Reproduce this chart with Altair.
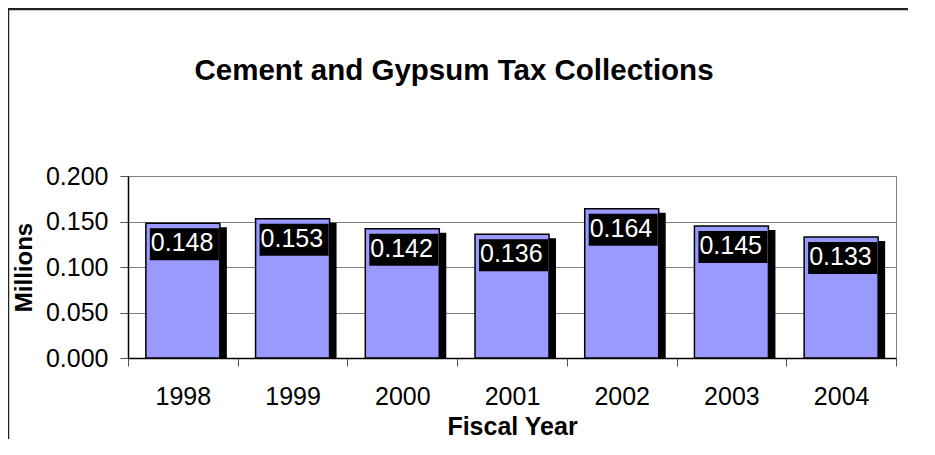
import altair as alt
import pandas as pd

years = ["1998", "1999", "2000", "2001", "2002", "2003", "2004"]
values = [0.148, 0.153, 0.142, 0.136, 0.164, 0.145, 0.133]
y_ticks = [0.0, 0.05, 0.10, 0.15, 0.20]
title_text = "Cement and Gypsum Tax Collections"
x_title = "Fiscal Year"
y_title = "Millions"

df = pd.DataFrame({"year": years, "value": values})
FONT = "Liberation Sans"

x_enc = alt.X(
    "year:N",
    sort=years,
    scale=alt.Scale(paddingInner=0, paddingOuter=0),
    axis=alt.Axis(
        title=x_title,
        labelAngle=0,
        tickBand="extent",
        labelFont=FONT,
        labelFontSize=25,
        labelColor="#000",
        labelBaseline="alphabetic",
        labelPadding=38,
        tickSize=8,
        tickColor="#555",
        domainColor="#000",
        domainWidth=1.5,
        titleFont=FONT,
        titleFontSize=25,
        titleFontWeight="bold",
        titleColor="#000",
        titleBaseline="alphabetic",
        titlePadding=25,
        grid=False,
    ),
)
y_enc = alt.Y(
    "value:Q",
    scale=alt.Scale(domain=[0, 0.2], nice=False),
    axis=alt.Axis(
        values=y_ticks,
        format=".3f",
        title=y_title,
        grid=True,
        gridColor="#808080",
        gridWidth=1,
        labelFont=FONT,
        labelFontSize=25,
        labelColor="#000",
        labelPadding=12,
        tickSize=8,
        tickColor="#555",
        domainColor="#000",
        domainWidth=1.5,
        titleFont=FONT,
        titleFontSize=24,
        titleFontWeight="bold",
        titleColor="#000",
        titlePadding=9,
    ),
)

base = alt.Chart(df)

shadow = base.mark_bar(color="#000", size=74, xOffset=7, yOffset=4, clip=True).encode(
    x=x_enc, y=y_enc
)
bars = base.mark_bar(color="#9999FF", stroke="#000", strokeWidth=1.5, size=74).encode(
    x=x_enc, y=y_enc
)
boxes = base.mark_bar(color="#000", size=69, xOffset=1.5, yOffset=5, y2Offset=37).encode(
    x=x_enc, y=y_enc, y2=alt.Y2("value:Q")
)
labels = base.mark_text(
    align="left", baseline="alphabetic", dx=-32, dy=28,
    color="#fff", font=FONT, fontSize=25
).encode(x=x_enc, y=y_enc, text=alt.Text("value:Q", format=".3f"))

one = pd.DataFrame({"t": [title_text]})
title = alt.Chart(one).mark_text(
    font=FONT, fontSize=29.5, fontWeight="bold", color="#000",
    align="center", baseline="alphabetic"
).encode(x=alt.value(326), y=alt.value(-96), text="t:N")

frame_left = alt.Chart(one).mark_rule(color="#222", strokeWidth=2.5).encode(
    x=alt.value(-120), y=alt.value(-168), y2=alt.value(300)
)
frame_top = alt.Chart(one).mark_rule(color="#222", strokeWidth=2.5).encode(
    x=alt.value(-121), x2=alt.value(780), y=alt.value(-167)
)

chart = alt.layer(frame_left, frame_top, shadow, bars, boxes, labels, title).properties(
    width=768,
    height=182,
    padding={"left": 120, "top": 168, "right": 20, "bottom": 81},
    autosize=alt.AutoSizeParams(type="none"),
).configure_view(stroke="#808080", strokeWidth=1)

chart.save("out.html", embed_options={"renderer": "svg", "actions": False})
